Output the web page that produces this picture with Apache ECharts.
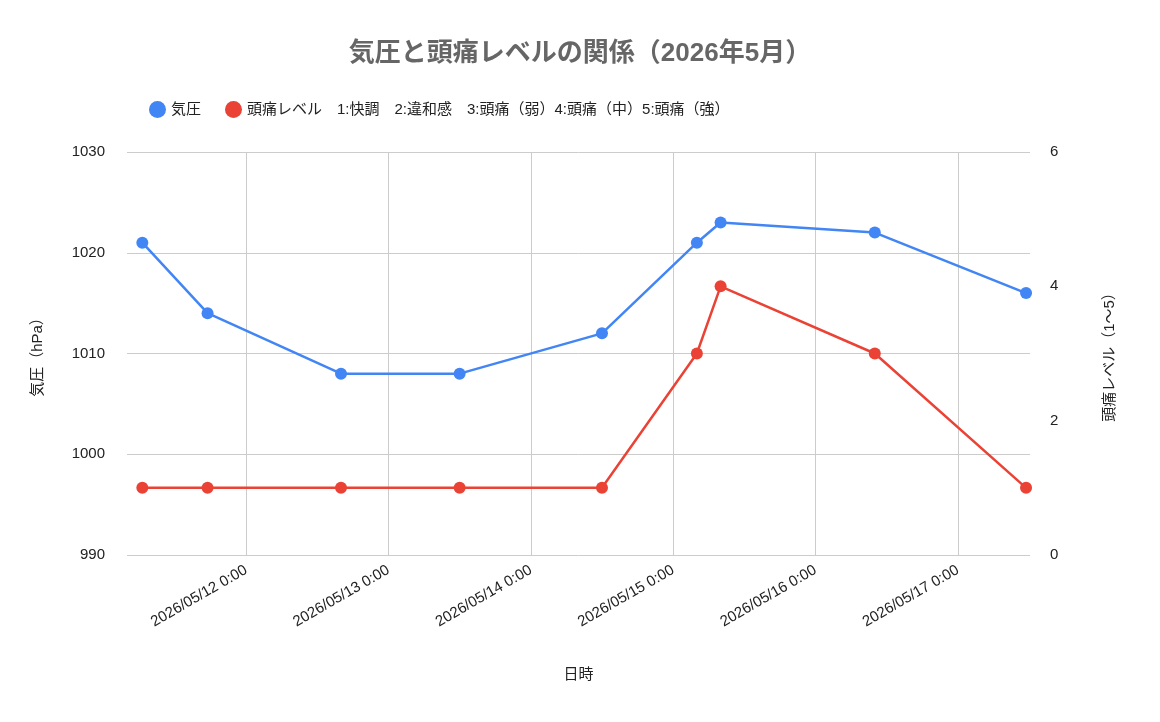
<!DOCTYPE html>
<html><head><meta charset="utf-8">
<script src="https://cdn.jsdelivr.net/npm/echarts@6/dist/echarts.min.js"></script>
<style>html,body{margin:0;background:#fff}#c{width:1160px;height:722px}</style>
</head><body><div id="c"></div>
<script>
const times = ['2026-05-11T06:30', '2026-05-11T17:30', '2026-05-12T16:00', '2026-05-13T12:00',
  '2026-05-14T12:00', '2026-05-15T04:00', '2026-05-15T08:00', '2026-05-16T10:00', '2026-05-17T11:30'];
const pressure = [1021, 1014, 1008, 1008, 1012, 1021, 1023, 1022, 1016];
const headache = [1, 1, 1, 1, 1, 3, 4, 3, 1];
const headacheName = '頭痛レベル　1:快調　2:違和感　3:頭痛（弱）4:頭痛（中）5:頭痛（強）';

const font = '"Liberation Sans", "Noto Sans CJK JP", sans-serif';
const chart = echarts.init(document.getElementById('c'));
const ts = times.map(t => new Date(t).getTime());
const pad = n => String(n).padStart(2, '0');

chart.setOption({
    textStyle: { fontFamily: font },
    title: {
        text: '気圧と頭痛レベルの関係（2026年5月）', left: 'center', top: 36,
        textStyle: { fontSize: 26, fontWeight: 'bold', color: '#666', fontFamily: font }
    },
    legend: {
        left: 144, top: 96, itemGap: 24, icon: 'circle', itemWidth: 17, itemHeight: 17,
        textStyle: { fontSize: 15, color: '#222', fontFamily: font }
    },
    grid: { left: 127, right: 130, top: 152, bottom: 167 },
    xAxis: {
        type: 'time', name: '日時', nameLocation: 'middle', nameGap: 112,
        nameTextStyle: { fontSize: 15, color: '#222' },
        min: new Date('2026-05-11T03:55').getTime(),
        max: new Date('2026-05-17T12:10').getTime(),
        interval: 86400000,
        splitNumber: 6,
        axisLine: { show: false }, axisTick: { show: false },
        splitLine: { show: true, showMinLine: false, showMaxLine: false, lineStyle: { color: '#ccc' } },
        axisLabel: {
            rotate: 30, fontSize: 15, color: '#222', margin: 14, hideOverlap: false,
            showMinLabel: false, showMaxLabel: false,
            formatter: v => { const d = new Date(v); return d.getHours() === 0 ? `${d.getFullYear()}/${pad(d.getMonth() + 1)}/${pad(d.getDate())} 0:00` : ''; }
        }
    },
    yAxis: [{
        type: 'value', name: '気圧（hPa）', nameLocation: 'middle', nameGap: 82, nameRotate: 90,
        nameTextStyle: { fontSize: 15, color: '#222' },
        min: 990, max: 1030, interval: 10,
        axisLabel: { fontSize: 15, color: '#222', margin: 22, formatter: v => String(v) },
        splitLine: { lineStyle: { color: '#ccc' } }
    }, {
        type: 'value', name: '頭痛レベル（1〜5）', nameLocation: 'middle', nameGap: 72, nameRotate: 90,
        nameTextStyle: { fontSize: 15, color: '#222' },
        min: 0, max: 6, interval: 2,
        axisLabel: { fontSize: 15, color: '#222', margin: 20 },
        splitLine: { show: false }
    }],
    series: [{
        name: '気圧', type: 'line', yAxisIndex: 0,
        data: ts.map((t, i) => [t, pressure[i]]),
        symbol: 'circle', symbolSize: 12, color: '#4285f4',
        lineStyle: { width: 2.5 }, itemStyle: { color: '#4285f4' }
    }, {
        name: headacheName, type: 'line', yAxisIndex: 1,
        data: ts.map((t, i) => [t, headache[i]]),
        symbol: 'circle', symbolSize: 12, color: '#ea4335',
        lineStyle: { width: 2.5 }, itemStyle: { color: '#ea4335' }
    }]
});
</script></body></html>
